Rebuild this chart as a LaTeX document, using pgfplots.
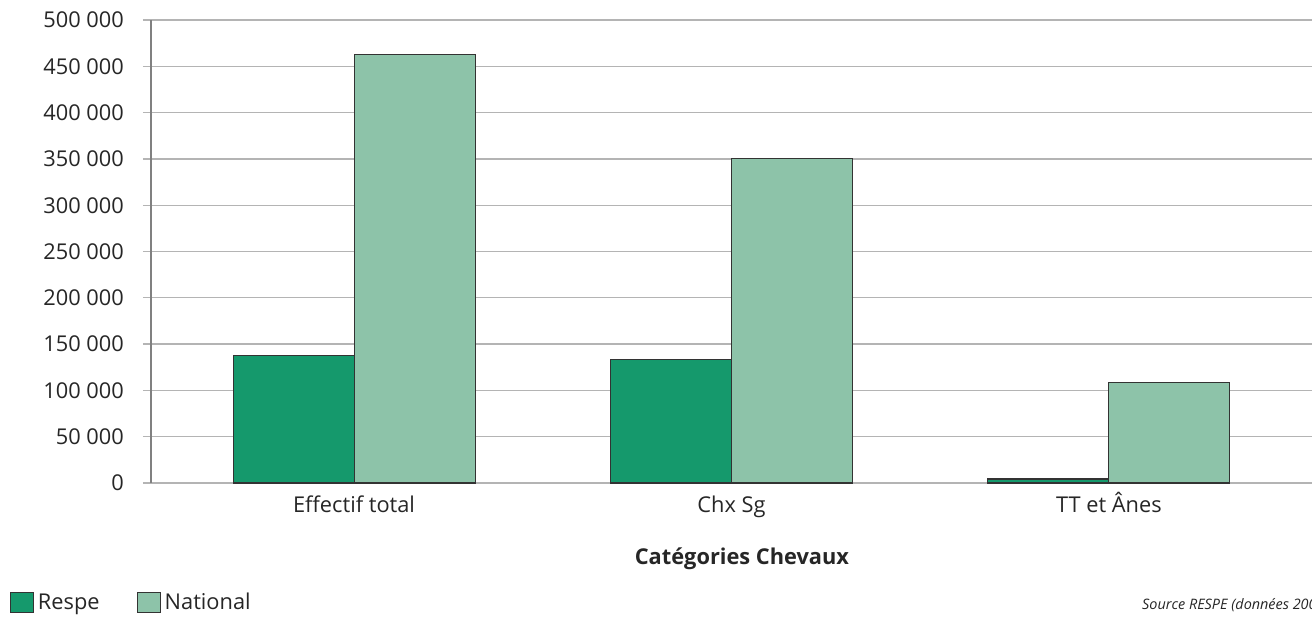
\documentclass[border=0pt]{standalone}
\usepackage{pgfplots}
\pgfplotsset{compat=1.18}
\usepackage{fontspec}
\setmainfont{Open Sans}

\definecolor{respe}{HTML}{15996C}
\definecolor{natio}{HTML}{8DC3A9}
\definecolor{gridc}{HTML}{B4B4B4}
\definecolor{axisc}{HTML}{808080}
\definecolor{barline}{HTML}{333333}

\begin{document}
\begin{tikzpicture}[font=\fontsize{12.4}{14}\selectfont]
% page = reference frame (1 px = 0.02 cm), axis corner at (0,0)
\useasboundingbox (-3.02,-2.72) rectangle (23.22,9.66);
\begin{axis}[
    at={(0,0)}, anchor=south west,
    scale only axis,
    width=23.22cm, height=9.26cm,
    xmin=-0.538, xmax=2.538,
    ymin=0, ymax=500000,
    scaled y ticks=false,
    axis y line*=left,
    axis x line*=bottom,
    xtick={0,1,2},
    xticklabels={Effectif total, Chx Sg, TT et Ânes},
    xtick style={draw=none},
    ytick={0,50000,...,500000},
    yticklabels={0, 50 000, 100 000, 150 000, 200 000, 250 000, 300 000, 350 000, 400 000, 450 000, 500 000},
    ymajorgrids=true,
    grid style={gridc, line width=0.7pt},
    ytick style={gridc, line width=0.7pt},
    tick align=outside,
    major tick length=0.16cm,
    x axis line style={draw=none},
    y axis line style={axisc, line width=0.8pt, -},
    tick label style={font=\fontsize{12.4}{14}\selectfont, text=black!85},
    yticklabel style={xshift=-0.26cm},
    xticklabel style={text height=12pt, text depth=3pt, yshift=0.11cm},
    xlabel={\textbf{Catégories Chevaux}},
    xlabel style={at={(axis description cs:0.509,0)}, anchor=center, yshift=-1.52cm, font=\fontsize{12.4}{14}\selectfont, text=black!85},
    legend style={at={(axis description cs:-0.1214,-0.259)}, anchor=west, draw=none, fill=none,
        legend columns=2, font=\fontsize{12.4}{14}\selectfont, text=black!85,
        /tikz/every even column/.append style={column sep=0.68cm},
        inner sep=0pt},
]
\addplot[ybar, bar width=2.42cm, bar shift=-1.21cm, fill=respe, draw=barline, line width=0.6pt,
    legend image code/.code={\draw[fill=respe, draw=barline, line width=0.6pt] (0cm,-0.2cm) rectangle (0.46cm,0.2cm);}]
    coordinates {(0,138100) (1,133500) (2,4300)};
\addplot[ybar, bar width=2.42cm, bar shift=1.21cm, fill=natio, draw=barline, line width=0.6pt,
    legend image code/.code={\draw[fill=natio, draw=barline, line width=0.6pt] (0cm,-0.2cm) rectangle (0.46cm,0.2cm);}]
    coordinates {(0,462600) (1,350400) (2,109000)};
\legend{Respe, National}
\end{axis}
\node[anchor=west, font=\fontsize{8.2}{10}\selectfont\itshape, text=black!85] at (19.70,-2.44) {Source RESPE (données 2009)};
\end{tikzpicture}
\end{document}
